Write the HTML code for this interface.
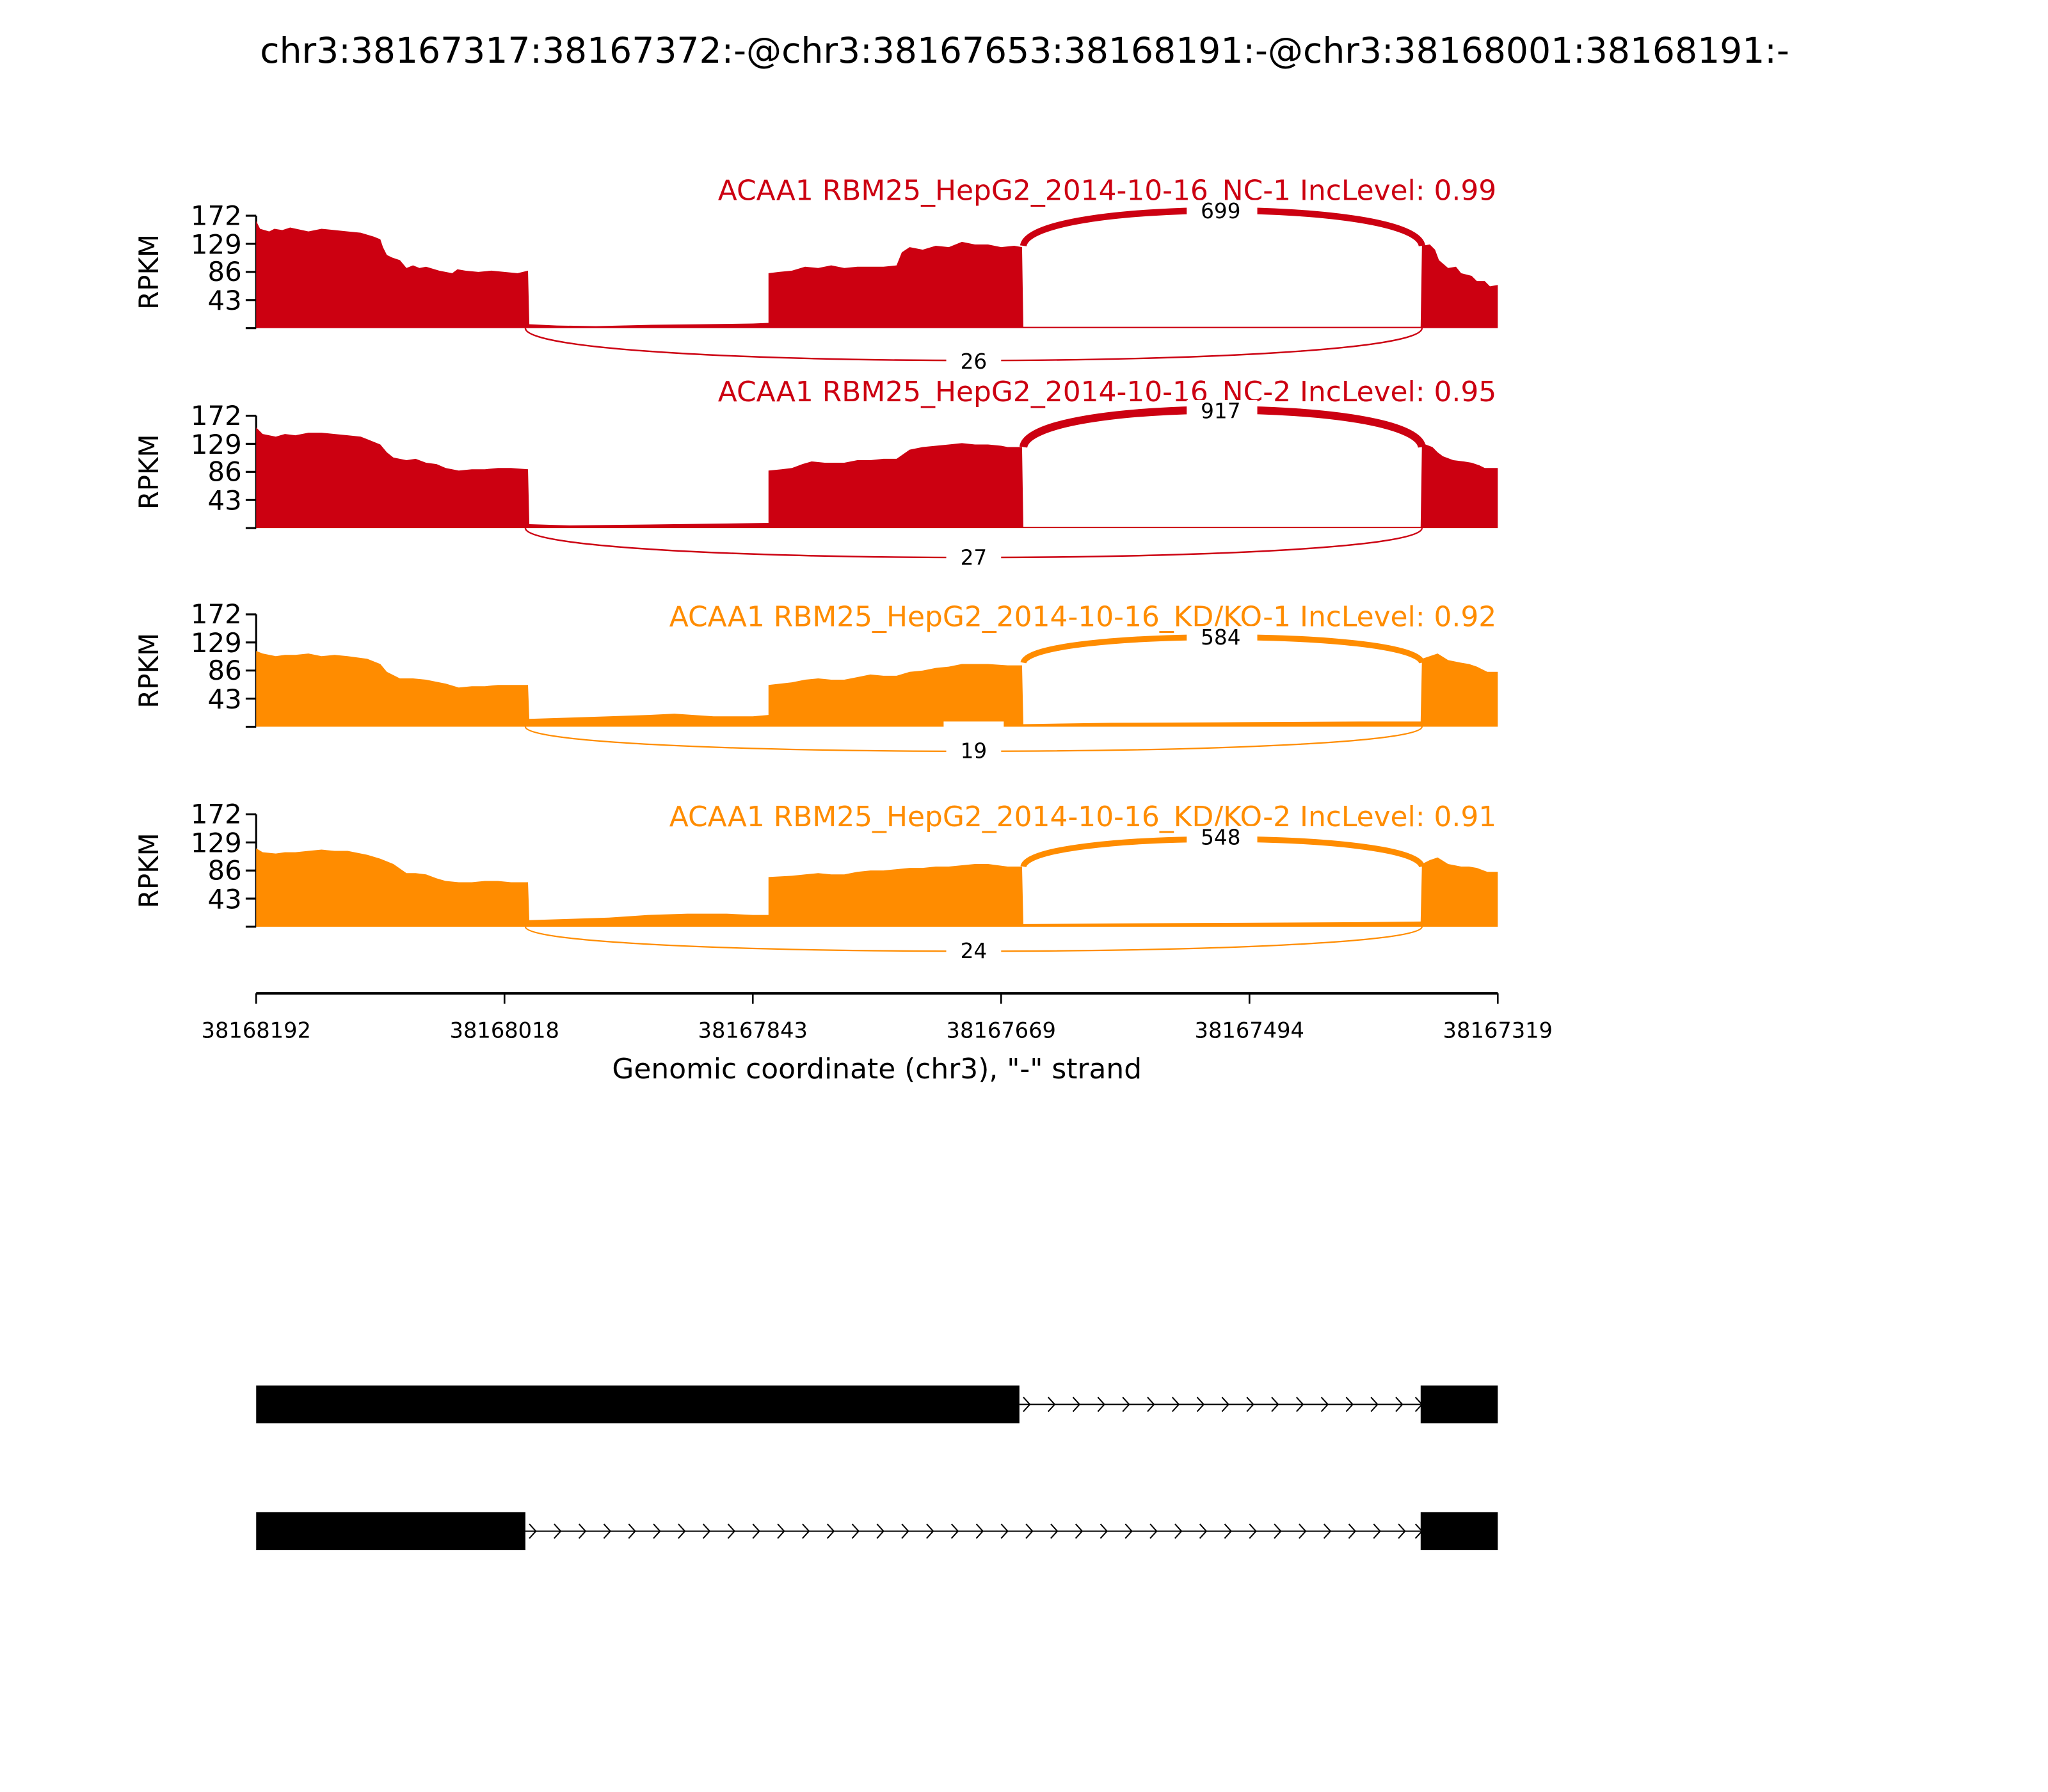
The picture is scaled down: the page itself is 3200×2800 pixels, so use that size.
<!DOCTYPE html>
<html><head><meta charset="utf-8"><style>
html,body{margin:0;padding:0;background:#fff;}
svg{display:block;font-family:"DejaVu Sans","Liberation Sans",sans-serif;}
</style></head><body>
<svg width="3200" height="2800" viewBox="0 0 1567 1371" xmlns="http://www.w3.org/2000/svg">
<rect width="1567" height="1371" fill="#fff"/>
<text x="784" y="48" font-size="27" text-anchor="middle">chr3:38167317:38167372:-@chr3:38167653:38168191:-@chr3:38168001:38168191:-</text>

<defs>
<g id="axis">
<line x1="196" y1="-86" x2="196" y2="0" stroke="#000" stroke-width="1.5"/>
<g stroke="#000" stroke-width="1.5">
<line x1="188" y1="-86" x2="196" y2="-86"/><line x1="188" y1="-64.5" x2="196" y2="-64.5"/>
<line x1="188" y1="-43" x2="196" y2="-43"/><line x1="188" y1="-21.5" x2="196" y2="-21.5"/>
<line x1="188" y1="0" x2="196" y2="0"/></g>
<g font-size="20.5" text-anchor="end">
<text x="185" y="-79">172</text><text x="185" y="-57">129</text>
<text x="185" y="-36">86</text><text x="185" y="-14">43</text></g>
<text transform="translate(121,-43) rotate(-90)" font-size="20.5" text-anchor="middle">RPKM</text>
</g>
</defs>

<!-- Panel 1 -->
<g transform="translate(0,251)">
<use href="#axis"/>
<text x="1145" y="-98" font-size="21.5" text-anchor="end" fill="#CC0011">ACAA1 RBM25_HepG2_2014-10-16_NC-1 IncLevel: 0.99</text>
<polygon fill="#CC0011" points="196,0 196,-82 199,-76 206,-74 210,-76 216,-75 222,-77 236,-74 246,-76 256,-75 266,-74 276,-73 286,-70 291,-68 293,-62 296,-56 300,-54 306,-52 311,-46 316,-48 321,-46 326,-47 336,-44 346,-42 350,-45 356,-44 366,-43 376,-44 386,-43 396,-42 404,-44 405,-3 426,-2 456,-1.5 496,-2.5 536,-3 576,-3.5 588,-4 588,-42 596,-43 606,-44 616,-47 626,-46 636,-48 646,-46 656,-47 666,-47 676,-47 686,-48 690,-58 696,-62 706,-60 716,-63 726,-62 736,-66 746,-64 756,-64 766,-62 776,-63 782,-62 783,-1 1087,-1 1088,-63 1094,-64 1098,-60 1101,-52 1108,-46 1114,-47 1118,-42 1126,-40 1130,-36 1136,-36 1140,-32 1146,-33 1146,0"/>
<path d="M783,-63 C788,-99 1083,-99 1088,-63" fill="none" stroke="#CC0011" stroke-width="5"/>
<rect x="908" y="-98" width="54" height="16" fill="#fff"/>
<text x="934" y="-84" font-size="16" text-anchor="middle">699</text>
<path d="M402,0 C402,33 1088,33 1088,0" fill="none" stroke="#CC0011" stroke-width="1.2"/>
<rect x="724" y="17" width="42" height="18" fill="#fff"/>
<text x="745" y="31" font-size="16" text-anchor="middle">26</text>
</g>

<!-- Panel 2 -->
<g transform="translate(0,404)">
<use href="#axis"/>
<text x="1145" y="-97" font-size="21.5" text-anchor="end" fill="#CC0011">ACAA1 RBM25_HepG2_2014-10-16_NC-2 IncLevel: 0.95</text>
<polygon fill="#CC0011" points="196,0 196,-77 201,-72 211,-70 218,-72 226,-71 236,-73 246,-73 256,-72 266,-71 276,-70 281,-68 291,-64 296,-58 301,-54 311,-52 318,-53 326,-50 334,-49 341,-46 351,-44 361,-45 371,-45 381,-46 391,-46 404,-45 405,-3 436,-2 476,-2.5 516,-3 556,-3.5 588,-4 588,-44 598,-45 606,-46 614,-49 621,-51 631,-50 646,-50 656,-52 666,-52 676,-53 686,-53 696,-60 706,-62 716,-63 726,-64 736,-65 746,-64 756,-64 766,-63 771,-62 782,-62 783,-1 1087,-1 1088,-65 1096,-62 1100,-58 1104,-55 1112,-52 1120,-51 1126,-50 1132,-48 1136,-46 1146,-46 1146,0"/>
<path d="M783,-62 C788,-100 1083,-100 1088,-62" fill="none" stroke="#CC0011" stroke-width="6"/>
<rect x="908" y="-98" width="54" height="16" fill="#fff"/>
<text x="934" y="-84" font-size="16" text-anchor="middle">917</text>
<path d="M402,0 C402,30 1088,30 1088,0" fill="none" stroke="#CC0011" stroke-width="1.2"/>
<rect x="724" y="14" width="42" height="18" fill="#fff"/>
<text x="745" y="28" font-size="16" text-anchor="middle">27</text>
</g>

<!-- Panel 3 -->
<g transform="translate(0,556)">
<use href="#axis"/>
<text x="1145" y="-77" font-size="21.5" text-anchor="end" fill="#FF8C00">ACAA1 RBM25_HepG2_2014-10-16_KD/KO-1 IncLevel: 0.92</text>
<polygon fill="#FF8C00" points="196,0 196,-58 201,-56 211,-54 218,-55 226,-55 236,-56 246,-54 256,-55 266,-54 281,-52 291,-48 296,-42 306,-37 316,-37 326,-36 336,-34 341,-33 351,-30 361,-31 371,-31 381,-32 391,-32 404,-32 405,-6 436,-7 466,-8 496,-9 516,-10 546,-8 576,-8 588,-9 588,-32 606,-34 616,-36 626,-37 636,-36 646,-36 656,-38 666,-40 676,-39 686,-39 696,-42 706,-43 716,-45 726,-46 736,-48 746,-48 756,-48 771,-47 782,-47 783,-2 850,-3 950,-3.5 1040,-4 1087,-4 1088,-52 1094,-54 1100,-56 1108,-51 1118,-49 1124,-48 1130,-46 1138,-42 1146,-42 1146,0"/>
<rect x="722" y="-4" width="46" height="6" fill="#fff"/>
<path d="M783,-49 C788,-75 1083,-75 1088,-49" fill="none" stroke="#FF8C00" stroke-width="4.5"/>
<rect x="908" y="-77" width="54" height="16" fill="#fff"/>
<text x="934" y="-63" font-size="16" text-anchor="middle">584</text>
<path d="M402,0 C402,25 1088,25 1088,0" fill="none" stroke="#FF8C00" stroke-width="1.1"/>
<rect x="724" y="10" width="42" height="18" fill="#fff"/>
<text x="745" y="24" font-size="16" text-anchor="middle">19</text>
</g>

<!-- Panel 4 -->
<g transform="translate(0,709)">
<use href="#axis"/>
<text x="1145" y="-77" font-size="21.5" text-anchor="end" fill="#FF8C00">ACAA1 RBM25_HepG2_2014-10-16_KD/KO-2 IncLevel: 0.91</text>
<polygon fill="#FF8C00" points="196,0 196,-60 201,-57 211,-56 218,-57 226,-57 236,-58 246,-59 256,-58 266,-58 281,-55 291,-52 301,-48 311,-41 318,-41 326,-40 334,-37 341,-35 351,-34 361,-34 371,-35 381,-35 391,-34 404,-34 405,-5 436,-6 466,-7 496,-9 526,-10 556,-10 576,-9 588,-9 588,-38 606,-39 616,-40 626,-41 636,-40 646,-40 656,-42 666,-43 676,-43 686,-44 696,-45 706,-45 716,-46 726,-46 736,-47 746,-48 756,-48 771,-46 782,-46 783,-2 850,-2.5 950,-3 1040,-3.5 1087,-4 1088,-48 1094,-51 1100,-53 1108,-48 1118,-46 1124,-46 1130,-45 1138,-42 1146,-42 1146,0"/>
<path d="M783,-46 C788,-74 1083,-74 1088,-46" fill="none" stroke="#FF8C00" stroke-width="4.5"/>
<rect x="908" y="-77" width="54" height="16" fill="#fff"/>
<text x="934" y="-63" font-size="16" text-anchor="middle">548</text>
<path d="M402,0 C402,25 1088,25 1088,0" fill="none" stroke="#FF8C00" stroke-width="1.1"/>
<rect x="724" y="10" width="42" height="18" fill="#fff"/>
<text x="745" y="24" font-size="16" text-anchor="middle">24</text>
</g>

<!-- X axis -->
<line x1="196" y1="760" x2="1146" y2="760" stroke="#000" stroke-width="2"/>
<g stroke="#000" stroke-width="1.3">
<line x1="196" y1="760" x2="196" y2="768"/><line x1="386" y1="760" x2="386" y2="768"/>
<line x1="576" y1="760" x2="576" y2="768"/><line x1="766" y1="760" x2="766" y2="768"/>
<line x1="956" y1="760" x2="956" y2="768"/><line x1="1146" y1="760" x2="1146" y2="768"/></g>
<g font-size="16.5" text-anchor="middle">
<text x="196" y="794">38168192</text><text x="386" y="794">38168018</text>
<text x="576" y="794">38167843</text><text x="766" y="794">38167669</text>
<text x="956" y="794">38167494</text><text x="1146" y="794">38167319</text></g>
<text x="671" y="825" font-size="21.5" text-anchor="middle">Genomic coordinate (chr3), "-" strand</text>

<!-- Gene models -->
<rect x="196" y="1060" width="584" height="29" fill="#000"/>
<rect x="1087" y="1060" width="59" height="29" fill="#000"/>
<line x1="780" y1="1074.5" x2="1087" y2="1074.5" stroke="#000" stroke-width="1"/>
<path d="M783,1069 l5,5.5 l-5,5.5 M802,1069 l5,5.5 l-5,5.5 M821,1069 l5,5.5 l-5,5.5 M840,1069 l5,5.5 l-5,5.5 M859,1069 l5,5.5 l-5,5.5 M878,1069 l5,5.5 l-5,5.5 M897,1069 l5,5.5 l-5,5.5 M916,1069 l5,5.5 l-5,5.5 M935,1069 l5,5.5 l-5,5.5 M954,1069 l5,5.5 l-5,5.5 M973,1069 l5,5.5 l-5,5.5 M992,1069 l5,5.5 l-5,5.5 M1011,1069 l5,5.5 l-5,5.5 M1030,1069 l5,5.5 l-5,5.5 M1049,1069 l5,5.5 l-5,5.5 M1068,1069 l5,5.5 l-5,5.5 M1083,1069 l5,5.5 l-5,5.5" fill="none" stroke="#000" stroke-width="1"/>

<rect x="196" y="1157" width="206" height="29" fill="#000"/>
<rect x="1087" y="1157" width="59" height="29" fill="#000"/>
<line x1="402" y1="1171.5" x2="1087" y2="1171.5" stroke="#000" stroke-width="1"/>
<path d="M405,1166 l5,5.5 l-5,5.5 M424,1166 l5,5.5 l-5,5.5 M443,1166 l5,5.5 l-5,5.5 M462,1166 l5,5.5 l-5,5.5 M481,1166 l5,5.5 l-5,5.5 M500,1166 l5,5.5 l-5,5.5 M519,1166 l5,5.5 l-5,5.5 M538,1166 l5,5.5 l-5,5.5 M557,1166 l5,5.5 l-5,5.5 M576,1166 l5,5.5 l-5,5.5 M595,1166 l5,5.5 l-5,5.5 M614,1166 l5,5.5 l-5,5.5 M633,1166 l5,5.5 l-5,5.5 M652,1166 l5,5.5 l-5,5.5 M671,1166 l5,5.5 l-5,5.5 M690,1166 l5,5.5 l-5,5.5 M709,1166 l5,5.5 l-5,5.5 M728,1166 l5,5.5 l-5,5.5 M747,1166 l5,5.5 l-5,5.5 M766,1166 l5,5.5 l-5,5.5 M785,1166 l5,5.5 l-5,5.5 M804,1166 l5,5.5 l-5,5.5 M823,1166 l5,5.5 l-5,5.5 M842,1166 l5,5.5 l-5,5.5 M861,1166 l5,5.5 l-5,5.5 M880,1166 l5,5.5 l-5,5.5 M899,1166 l5,5.5 l-5,5.5 M918,1166 l5,5.5 l-5,5.5 M937,1166 l5,5.5 l-5,5.5 M956,1166 l5,5.5 l-5,5.5 M975,1166 l5,5.5 l-5,5.5 M994,1166 l5,5.5 l-5,5.5 M1013,1166 l5,5.5 l-5,5.5 M1032,1166 l5,5.5 l-5,5.5 M1051,1166 l5,5.5 l-5,5.5 M1070,1166 l5,5.5 l-5,5.5 M1083,1166 l5,5.5 l-5,5.5" fill="none" stroke="#000" stroke-width="1"/>
</svg>
</body></html>
